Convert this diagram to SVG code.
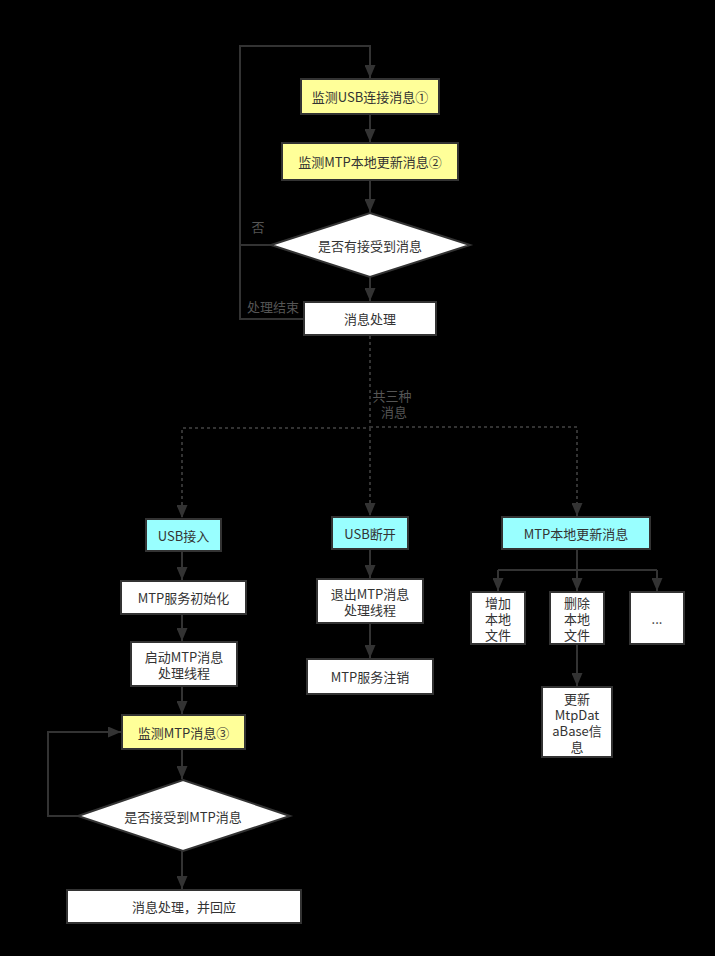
<svg xmlns="http://www.w3.org/2000/svg" width="715" height="956" viewBox="0 0 715 956">
<defs>
<style>
.bg{fill:#000}
.n{stroke:#333;stroke-width:2}
.y{fill:#ffff99}
.c{fill:#99ffff}
.w{fill:#fff}
text{font-family:"Microsoft YaHei","Noto Sans CJK SC","Noto Sans",sans-serif;font-size:13px;fill:#333;text-anchor:middle;dominant-baseline:central}
.lbl{fill:#555}
.e{fill:none;stroke:#333;stroke-width:2}
.d{stroke-dasharray:3 3}
</style>
<marker id="ar" viewBox="0 0 13 11" refX="13" refY="5.5" markerWidth="13" markerHeight="11" markerUnits="userSpaceOnUse" orient="auto">
<path d="M0,0 L13,5.5 L0,11 z" fill="#333"/>
</marker>
</defs>
<rect class="bg" x="0" y="0" width="715" height="956"/>
<g id="connectors">
<path class="e" d="M304,319 H240 V46 H370 V78" marker-end="url(#ar)"/>
<path class="e" d="M271,245 H240"/>
<path class="e" d="M370,114 V142" marker-end="url(#ar)"/>
<path class="e" d="M370,180 V212" marker-end="url(#ar)"/>
<path class="e" d="M370,277 V301" marker-end="url(#ar)"/>
<path class="e d" d="M370,336 V428 H182 V518" marker-end="url(#ar)"/>
<path class="e d" d="M370,428 V516" marker-end="url(#ar)"/>
<path class="e d" d="M370,427 H577 V516" marker-end="url(#ar)"/>
<path class="e" d="M182,551 V580" marker-end="url(#ar)"/>
<path class="e" d="M182,614 V641" marker-end="url(#ar)"/>
<path class="e" d="M182,686 V714" marker-end="url(#ar)"/>
<path class="e" d="M182,749 V779" marker-end="url(#ar)"/>
<path class="e" d="M182,851 V889" marker-end="url(#ar)"/>
<path class="e" d="M78,816 H48 V732 H121" marker-end="url(#ar)"/>
<path class="e" d="M370,549 V578" marker-end="url(#ar)"/>
<path class="e" d="M370,623 V658" marker-end="url(#ar)"/>
<path class="e" d="M577,549 V570"/>
<path class="e" d="M498,570 H657"/>
<path class="e" d="M498,570 V591" marker-end="url(#ar)"/>
<path class="e" d="M577,570 V591" marker-end="url(#ar)"/>
<path class="e" d="M657,570 V591" marker-end="url(#ar)"/>
<path class="e" d="M577,644 V686" marker-end="url(#ar)"/>
<text class="lbl" x="258" y="226">否</text>
<text class="lbl" x="273" y="306">处理结束</text>
<text class="lbl" x="393" y="395"><tspan x="392" y="395">共三种</tspan><tspan x="394" y="411">消息</tspan></text>
</g>
<g id="n1"><rect class="n y" x="301" y="79" width="138" height="35"/><text x="370" y="96.5">监测USB连接消息①</text></g>
<g id="n2"><rect class="n y" x="282" y="143" width="176" height="37"/><text x="370" y="161.5">监测MTP本地更新消息②</text></g>
<g id="n3"><polygon class="n w" points="370,213 470,245 370,277 271,245"/><text x="370" y="245">是否有接受到消息</text></g>
<g id="n4"><rect class="n w" x="304" y="302" width="132" height="33"/><text x="370" y="318.5">消息处理</text></g>
<g id="n5"><rect class="n c" x="146" y="519" width="75" height="32"/><text x="183.5" y="535">USB接入</text></g>
<g id="n6"><rect class="n c" x="332" y="517" width="76" height="32"/><text x="370" y="533">USB断开</text></g>
<g id="n7"><rect class="n c" x="502" y="517" width="148" height="32"/><text x="576" y="533">MTP本地更新消息</text></g>
<g id="n8"><rect class="n w" x="121" y="581" width="125" height="33"/><text x="183.5" y="597.5">MTP服务初始化</text></g>
<g id="n9"><rect class="n w" x="131" y="642" width="106" height="44"/><text x="184" y="656"><tspan x="184" y="656">启动MTP消息</tspan><tspan x="184" y="672">处理线程</tspan></text></g>
<g id="n10"><rect class="n y" x="122" y="715" width="123" height="34"/><text x="183.5" y="732">监测MTP消息③</text></g>
<g id="n11"><polygon class="n w" points="183,780 290,816 183,851 78,816"/><text x="183" y="816">是否接受到MTP消息</text></g>
<g id="n12"><rect class="n w" x="67" y="890" width="234" height="33"/><text x="184" y="906.5">消息处理，并回应</text></g>
<g id="n13"><rect class="n w" x="317" y="579" width="106" height="44"/><text x="370" y="593"><tspan x="370" y="593">退出MTP消息</tspan><tspan x="370" y="609">处理线程</tspan></text></g>
<g id="n14"><rect class="n w" x="307" y="659" width="126" height="35"/><text x="370" y="676.5">MTP服务注销</text></g>
<g id="n15"><rect class="n w" x="471" y="592" width="54" height="52"/><text x="498" y="602"><tspan x="498" y="602">增加</tspan><tspan x="498" y="618">本地</tspan><tspan x="498" y="634">文件</tspan></text></g>
<g id="n16"><rect class="n w" x="550" y="592" width="54" height="52"/><text x="577" y="602"><tspan x="577" y="602">删除</tspan><tspan x="577" y="618">本地</tspan><tspan x="577" y="634">文件</tspan></text></g>
<g id="n17"><rect class="n w" x="630" y="592" width="54" height="52"/><text x="657" y="618">...</text></g>
<g id="n18"><rect class="n w" x="542" y="687" width="70" height="70"/><text x="577" y="698"><tspan x="577" y="698">更新</tspan><tspan x="577" y="714">MtpDat</tspan><tspan x="577" y="730">aBase信</tspan><tspan x="577" y="746">息</tspan></text></g>
</svg>
